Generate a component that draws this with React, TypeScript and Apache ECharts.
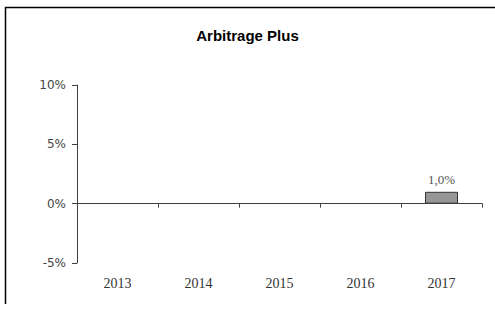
import React, { useEffect, useRef } from "react";
import * as echarts from "echarts";

const categories = ["2013", "2014", "2015", "2016", "2017"];
const values: (number | null)[] = [null, null, null, null, 1.0];
const yTicks = [-5, 0, 5, 10];
const title = "Arbitrage Plus";

export default function App() {
  const ref = useRef<HTMLDivElement>(null);
  useEffect(() => {
    if (!ref.current) return;
    const chart = echarts.init(ref.current, null, { renderer: "svg" });
    chart.setOption({
      animation: false,
      backgroundColor: "#ffffff",
      title: {
        text: title,
        left: "center",
        top: 23,
        textStyle: { fontFamily: "Liberation Sans", fontWeight: "bold", fontSize: 15, color: "#000" },
      },
      graphic: [
        { type: "line", shape: { x1: 5, y1: 7.5, x2: 495, y2: 7.5 }, style: { stroke: "#000", lineWidth: 1.5 } },
        { type: "line", shape: { x1: 5.5, y1: 7, x2: 5.5, y2: 304 }, style: { stroke: "#000", lineWidth: 1.5 } },
      ],
      grid: { left: 77, right: 13, top: 85, bottom: 46, containLabel: false, outerBoundsMode: "none" },
      xAxis: [
        {
          type: "category",
          data: categories,
          position: "bottom",
          axisLine: { show: false, onZero: false },
          axisTick: { show: false },
          axisLabel: { margin: 13, fontFamily: "Liberation Serif", fontSize: 14, color: "#333" },
          splitLine: { show: false },
        },
        {
          type: "category",
          data: categories,
          position: "bottom",
          axisLine: { show: true, onZero: true, lineStyle: { color: "#404040", width: 1 } },
          axisTick: { show: true, length: 4, lineStyle: { color: "#404040" } },
          axisLabel: { show: false },
          splitLine: { show: false },
        },
      ],
      yAxis: {
        type: "value",
        min: yTicks[0],
        max: yTicks[yTicks.length - 1],
        interval: 5,
        axisLine: { show: true, lineStyle: { color: "#404040", width: 1 } },
        axisTick: { show: true, length: 5, lineStyle: { color: "#404040" } },
        axisLabel: { formatter: "{value}%", margin: 11, fontFamily: "DejaVu Sans", fontSize: 12, color: "#444" },
        splitLine: { show: false },
      },
      series: [
        {
          type: "bar",
          xAxisIndex: 0,
          data: values,
          barWidth: 33,
          itemStyle: { color: "#969696", borderColor: "#333", borderWidth: 1 },
          label: {
            show: true,
            position: "top",
            distance: 6,
            fontFamily: "Liberation Serif",
            fontSize: 13,
            color: "#555",
            formatter: (p: any) => p.value.toFixed(1).replace(".", ",") + "%",
          },
        },
      ],
    });
    return () => chart.dispose();
  }, []);
  return <div ref={ref} style={{ position: "fixed", left: 0, top: 0, width: 495, height: 309 }} />;
}
